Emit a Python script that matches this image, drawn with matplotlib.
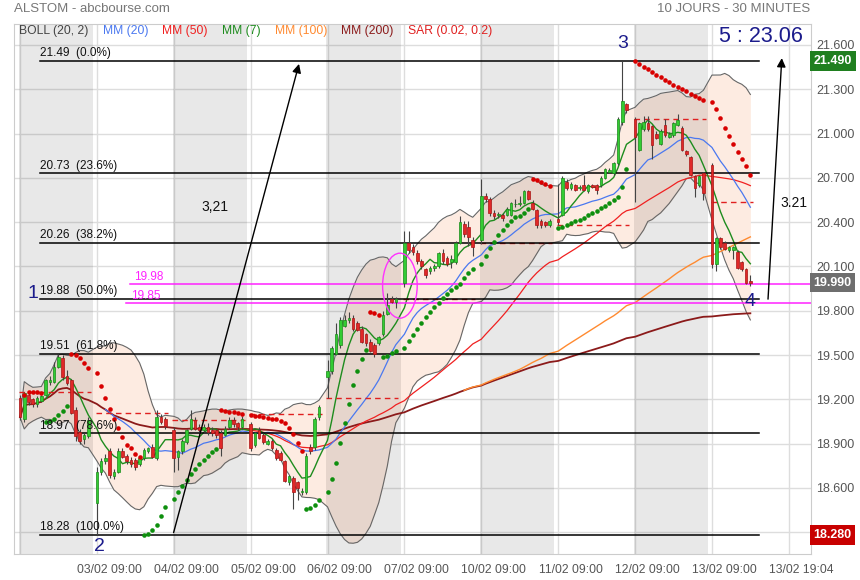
import numpy as np
import pandas as pd
import matplotlib
matplotlib.use('Agg')
import matplotlib.pyplot as plt
from matplotlib.patches import Ellipse
from matplotlib.transforms import blended_transform_factory

plt.rcParams['font.family'] = ['Liberation Sans', 'DejaVu Sans']

# 30 minute candles, 17 per session, 13/02 incomplete
candles_per_day = [17, 17, 17, 17, 17, 17, 17, 17, 17, 10]
xlabels = ['03/02 09:00', '04/02 09:00', '05/02 09:00', '06/02 09:00', '07/02 09:00',
           '10/02 09:00', '11/02 09:00', '12/02 09:00', '13/02 09:00', '13/02 19:04']

opens = [19.21, 19.07, 19.23, 19.20, 19.17, 19.19, 19.23, 19.32, 19.32, 19.42, 19.48, 19.36, 19.33, 19.13, 18.98, 18.93, 18.95,
         18.50, 18.71, 18.78, 18.85, 18.68, 18.71, 18.85, 18.82, 18.79, 18.79, 18.76, 18.80, 18.85, 18.88, 18.80, 19.08, 19.07,
         18.99, 18.81, 18.85, 18.91, 19.00, 19.06, 19.01, 18.99, 19.01, 18.99, 18.99, 18.97, 18.96, 19.01, 19.06, 19.04, 19.01,
         19.03, 18.89, 18.99, 18.96, 18.90, 18.92, 18.86, 18.84, 18.78, 18.64, 18.67, 18.64, 18.57, 18.57, 18.88, 18.88, 19.08,
         19.35, 19.39, 19.51, 19.57, 19.70, 19.74, 19.75, 19.72, 19.68, 19.64, 19.59, 19.57, 19.58, 19.64, 19.78, 19.88, 19.86,
         19.99, 20.26, 20.23, 20.19, 20.14, 20.08, 20.07, 20.09, 20.10, 20.19, 20.16, 20.13, 20.13, 20.26, 20.39, 20.37, 20.28,
         20.28, 20.58, 20.56, 20.46, 20.45, 20.45, 20.45, 20.45, 20.52, 20.52, 20.53, 20.61, 20.53, 20.48, 20.41, 20.40, 20.38,
         20.42, 20.45, 20.67, 20.63, 20.65, 20.63, 20.65, 20.61, 20.65, 20.65, 20.65, 20.70, 20.74, 20.73, 20.80, 21.08, 21.20,
         21.10, 20.89, 21.03, 21.07, 21.05, 21.00, 20.93, 21.06, 20.98, 20.99, 21.06, 21.04, 20.88, 20.84, 20.71, 20.65, 20.73,
         20.79, 20.12, 20.29, 20.26, 20.21, 20.21, 20.20, 20.13, 20.08, 20.00]
highs = [19.23, 19.25, 19.25, 19.21, 19.22, 19.23, 19.34, 19.36, 19.45, 19.51, 19.50, 19.40, 19.34, 19.15, 19.00, 18.97, 19.08,
         18.74, 18.80, 18.83, 18.87, 18.73, 18.87, 18.87, 18.83, 18.81, 18.80, 18.81, 18.87, 18.88, 18.90, 19.13, 19.10, 19.08,
         19.01, 18.86, 18.93, 19.00, 19.13, 19.08, 19.03, 19.03, 19.04, 19.01, 19.00, 18.99, 19.02, 19.08, 19.08, 19.05, 19.09,
         19.05, 18.98, 19.01, 18.97, 18.93, 18.93, 18.87, 18.85, 18.79, 18.69, 18.68, 18.65, 18.60, 18.84, 18.90, 19.08, 19.16,
         19.47, 19.56, 19.72, 19.76, 19.77, 19.79, 19.77, 19.73, 19.70, 19.65, 19.61, 19.58, 19.63, 19.80, 19.92, 19.90, 19.89,
         20.34, 20.34, 20.25, 20.21, 20.15, 20.09, 20.10, 20.12, 20.20, 20.22, 20.17, 20.18, 20.27, 20.44, 20.41, 20.41, 20.30,
         20.69, 20.60, 20.57, 20.48, 20.47, 20.46, 20.50, 20.54, 20.56, 20.58, 20.62, 20.62, 20.55, 20.49, 20.42, 20.41, 20.42,
         20.66, 20.71, 20.69, 20.67, 20.66, 20.65, 20.72, 20.66, 20.66, 20.66, 20.71, 20.77, 20.77, 20.81, 21.11, 21.49, 21.21,
         21.11, 21.08, 21.12, 21.12, 21.06, 21.02, 21.03, 21.10, 21.01, 21.08, 21.13, 21.05, 20.89, 20.85, 20.72, 20.72, 20.74,
         20.80, 20.30, 20.30, 20.27, 20.24, 20.24, 20.21, 20.14, 20.09, 20.04]
lows = [19.06, 19.05, 19.16, 19.15, 19.15, 19.18, 19.22, 19.30, 19.31, 19.41, 19.33, 19.30, 19.10, 18.92, 18.90, 18.90, 18.94,
        18.28, 18.69, 18.76, 18.67, 18.66, 18.70, 18.80, 18.76, 18.74, 18.72, 18.75, 18.79, 18.84, 18.80, 18.79, 19.03, 19.00,
        18.71, 18.72, 18.83, 18.90, 18.99, 18.99, 18.97, 18.98, 18.96, 18.95, 18.94, 18.82, 18.95, 19.00, 19.01, 18.99, 19.00,
        18.85, 18.88, 18.93, 18.90, 18.89, 18.86, 18.79, 18.78, 18.64, 18.62, 18.46, 18.52, 18.55, 18.56, 18.83, 18.86, 19.06,
        19.21, 19.37, 19.50, 19.55, 19.69, 19.72, 19.66, 19.66, 19.58, 19.56, 19.52, 19.49, 19.57, 19.63, 19.77, 19.85, 19.82,
        19.96, 20.19, 20.18, 20.12, 20.08, 20.02, 20.05, 20.07, 20.09, 20.12, 20.10, 20.09, 20.12, 20.25, 20.30, 20.24, 20.17,
        20.25, 20.54, 20.44, 20.42, 20.43, 20.41, 20.44, 20.44, 20.50, 20.51, 20.52, 20.55, 20.48, 20.36, 20.36, 20.37, 20.37,
        20.38, 20.44, 20.62, 20.62, 20.61, 20.62, 20.61, 20.60, 20.63, 20.59, 20.64, 20.69, 20.73, 20.72, 20.79, 21.06, 21.14,
        20.54, 20.88, 21.02, 21.02, 20.83, 20.96, 20.92, 20.98, 20.97, 20.98, 21.05, 20.88, 20.85, 20.71, 20.57, 20.64, 20.55,
        20.09, 20.07, 20.22, 20.21, 20.20, 20.15, 20.08, 20.07, 19.98, 19.97]
closes = [19.08, 19.24, 19.18, 19.17, 19.21, 19.22, 19.33, 19.33, 19.42, 19.49, 19.35, 19.31, 19.11, 18.95, 18.92, 18.96, 19.06,
          18.71, 18.78, 18.80, 18.69, 18.71, 18.85, 18.81, 18.78, 18.76, 18.74, 18.80, 18.86, 18.87, 18.81, 19.08, 19.05, 19.02,
          18.80, 18.85, 18.92, 18.99, 19.07, 19.00, 18.99, 19.01, 18.98, 18.97, 18.96, 18.87, 19.00, 19.06, 19.03, 19.01, 19.07,
          18.87, 18.97, 18.94, 18.91, 18.92, 18.87, 18.80, 18.79, 18.65, 18.68, 18.57, 18.60, 18.58, 18.82, 18.85, 19.07, 19.15,
          19.39, 19.55, 19.64, 19.74, 19.74, 19.75, 19.68, 19.67, 19.59, 19.58, 19.53, 19.51, 19.62, 19.77, 19.84, 19.86, 19.88,
          20.26, 20.21, 20.20, 20.14, 20.10, 20.04, 20.09, 20.10, 20.19, 20.14, 20.12, 20.15, 20.26, 20.40, 20.32, 20.30, 20.23,
          20.58, 20.56, 20.46, 20.44, 20.45, 20.43, 20.49, 20.53, 20.52, 20.53, 20.61, 20.56, 20.49, 20.38, 20.38, 20.38, 20.41,
          20.40, 20.70, 20.63, 20.66, 20.62, 20.64, 20.62, 20.65, 20.64, 20.62, 20.70, 20.76, 20.75, 20.80, 21.10, 21.22, 21.16,
          20.98, 21.07, 21.08, 21.03, 20.92, 20.97, 21.02, 20.99, 21.00, 21.07, 21.09, 20.89, 20.86, 20.72, 20.63, 20.71, 20.60,
          20.12, 20.29, 20.23, 20.22, 20.23, 20.23, 20.09, 20.08, 19.99, 19.99]

# previous close reference (dashed red), one per session
ref_close = [19.25, 19.11, 19.06, 19.10, 19.21, 19.88, 20.26, 20.38, 21.10, 20.54]

fib_levels = [21.49, 20.73, 20.26, 19.88, 19.51, 18.97, 18.28]
fib_pct = ['0.0%', '23.6%', '38.2%', '50.0%', '61.8%', '78.6%', '100.0%']
magenta_levels = [19.98, 19.85]

last_price = 19.99

# ---- x positions: 18 slots per day, candle k of day d at 18*d + k
xs = []
for d, n in enumerate(candles_per_day):
    xs += [18 * d + k for k in range(n)]
xs = np.array(xs, dtype=float)
o = np.array(opens); h = np.array(highs); l = np.array(lows); c = np.array(closes)

close = pd.Series(c)
mm7 = close.rolling(7).mean()
mm20 = close.rolling(20).mean()
mm50 = close.rolling(50).mean()
mm100 = close.rolling(100).mean()
mm200 = close.rolling(200, min_periods=1).mean()
bmid = close.rolling(20, min_periods=1).mean()
bsd = close.rolling(20, min_periods=1).std(ddof=0)
bup = bmid + 2 * bsd
blo = bmid - 2 * bsd


def psar(high, low, step=0.02, maxstep=0.2):
    n = len(high)
    sar = np.zeros(n)
    bull = np.zeros(n, dtype=bool)
    up = True
    af = step
    ep = high[0]
    sar[0] = low[0]
    bull[0] = True
    for i in range(1, n):
        s = sar[i - 1] + af * (ep - sar[i - 1])
        if up:
            s = min(s, low[i - 1], low[max(i - 2, 0)])
            if low[i] < s:
                up = False
                s = ep
                ep = low[i]
                af = step
            elif high[i] > ep:
                ep = high[i]
                af = min(af + step, maxstep)
        else:
            s = max(s, high[i - 1], high[max(i - 2, 0)])
            if high[i] > s:
                up = True
                s = ep
                ep = high[i]
                af = step
            elif low[i] < ep:
                ep = low[i]
                af = min(af + step, maxstep)
        sar[i] = s
        bull[i] = up
    return sar, bull


sar, bull = psar(h, l)

# ---- figure
fig = plt.figure(figsize=(8.6, 5.8), dpi=100)
ax = fig.add_axes([14 / 860, 26 / 580, 797 / 860, 530 / 580])
ax.set_xlim(-1.4, 185.2)
ax.set_ylim(18.153, 21.742)

yt = np.arange(18.3, 21.61, 0.3)
ax.set_yticks(yt)
ax.set_yticklabels(['%.3f' % v for v in yt])
ax.yaxis.tick_right()
ax.tick_params(axis='y', length=0, pad=4, labelsize=9, labelcolor='#555555')
ax.set_xticks([18 * d for d in range(11)])
ax.tick_params(axis='x', length=0, labelbottom=False)
ax.grid(True, color='#dddddd', lw=1, zorder=0)
ax.set_axisbelow(True)
for s in ax.spines.values():
    s.set_color('#cccccc')

# bollinger fill
ax.fill_between(xs, blo, bup, color='#fdebe1', lw=0, zorder=1)
# alternate day shading
for d in range(0, 10, 2):
    ax.axvspan(18 * d - 0.25, 18 * d + 17.1, color='black', alpha=0.09, lw=0, zorder=1.2)

ax.plot(xs, bup, color='#666666', lw=0.8, zorder=2)
ax.plot(xs, blo, color='#666666', lw=0.8, zorder=2)
ax.plot(xs, mm200, color='#8b1a1a', lw=1.3, zorder=2.1)
ax.plot(xs, mm100, color='#ff8a30', lw=1.0, zorder=2.1)
ax.plot(xs, mm50, color='#f02020', lw=0.9, zorder=2.1)
ax.plot(xs, mm20, color='#4a78f0', lw=0.9, zorder=2.1)
ax.plot(xs, mm7, color='#1e8c1e', lw=1.0, zorder=2.2)

# previous close dashed lines
for d, v in enumerate(ref_close):
    ax.plot([18 * d - 0.3, 18 * d + candles_per_day[d] - 0.4], [v, v], color='#e02020',
            lw=1, ls=(0, (4, 3)), zorder=2.3)

# fibonacci lines
for v, p in zip(fib_levels, fib_pct):
    ax.plot([4.7, 173.0], [v, v], color='black', lw=1.1, zorder=2.5)
    ax.text(4.7, v + 0.012, '%.2f  (%s)' % (v, p), fontsize=8.5, color='#111111',
            ha='left', va='bottom', zorder=5)

# magenta levels
for v, x0 in zip(magenta_levels, [25.7, 24.8]):
    ax.plot([x0, 185.2], [v, v], color='#ff22ff', lw=1.1, zorder=2.6)
    ax.text(x0 + 1.1, v + 0.008, '%.2f' % v, fontsize=8.5, color='#ff22ff',
            ha='left', va='bottom', zorder=5)

# candles
up = c >= o
ax.vlines(xs, l, h, color='#444444', lw=0.8, zorder=3)
body = np.maximum(np.abs(c - o), 0.006)
ax.bar(xs[up], body[up], bottom=np.minimum(o, c)[up], width=0.62,
       color='#33cc33', edgecolor='#1a8a1a', lw=0.5, zorder=3.1)
ax.bar(xs[~up], body[~up], bottom=np.minimum(o, c)[~up], width=0.62,
       color='#e02828', edgecolor='#a81414', lw=0.5, zorder=3.1)

# parabolic SAR
ax.plot(xs[1:][bull[1:]], sar[1:][bull[1:]], 'o', ms=3.3, color='#0e8f0e', mec='none', zorder=4)
ax.plot(xs[1:][~bull[1:]], sar[1:][~bull[1:]], 'o', ms=3.3, color='#d80000', mec='none', zorder=4)

# annotations
ax.add_patch(Ellipse((88.95, 19.97), 8.1, 0.44, fill=False, ec='#ff33ff', lw=1, zorder=4.5))
ax.annotate('', xy=(65.5, 21.49), xytext=(35.8, 18.28),
            arrowprops=dict(arrowstyle='-|>', color='black', lw=1, mutation_scale=13), zorder=5)
ax.annotate('', xy=(178.4, 21.53), xytext=(175.1, 19.86),
            arrowprops=dict(arrowstyle='-|>', color='black', lw=1, mutation_scale=13), zorder=5)
ax.text(45.6, 20.50, '3,21', fontsize=10, ha='center', va='center', color='#111111')
ax.text(181.2, 20.53, '3.21', fontsize=10, ha='center', va='center', color='#111111')
navy = '#1c1c8c'
ax.text(3.0, 19.92, '1', fontsize=14, ha='center', va='center', color=navy)
ax.text(18.7, 18.207, '2', fontsize=14, ha='center', va='center', color=navy)
ax.text(141.2, 21.607, '3', fontsize=14, ha='center', va='center', color=navy)
ax.text(171.0, 19.86, '4', fontsize=14, ha='center', va='center', color=navy, zorder=5)
ax.text(173.5, 21.654, '5 : 23.06', fontsize=15.5, ha='center', va='center', color=navy)

# legend row
leg = [('BOLL (20, 2)', '#444444', 19), ('MM (20)', '#4a78f0', 103), ('MM (50)', '#f02020', 162),
       ('MM (7)', '#1e8c1e', 222), ('MM (100)', '#ff8a30', 275), ('MM (200)', '#8b1a1a', 341),
       ('SAR (0.02, 0.2)', '#e02020', 408)]
for txt, col, px in leg:
    ax.text((px - 14) / 797, 0.986, txt, transform=ax.transAxes, fontsize=8.7, color=col,
            ha='left', va='center')

# x labels
for d, lab in enumerate(xlabels):
    ax.text(18 * (d + 1) + 2.9, -0.031, lab, transform=blended_transform_factory(ax.transData, ax.transAxes),
            fontsize=8.7, color='#555555', ha='center', va='center', clip_on=False)

# price tags on the right axis
tr = blended_transform_factory(ax.transAxes, ax.transData)
for v, fc in [(21.49, '#1f7f1f'), (last_price, '#6e6e6e'), (18.28, '#c80000')]:
    ax.text(1.003, v, '%.3f' % v, transform=tr, fontsize=9, fontweight='bold', color='white',
            ha='left', va='center', zorder=10, clip_on=False,
            bbox=dict(boxstyle='square,pad=0.3', fc=fc, ec='none'))

fig.text(14 / 860, 1 - 9 / 580, 'ALSTOM - abcbourse.com', fontsize=9.5, color='#777777', ha='left', va='center')
fig.text(810 / 860, 1 - 9 / 580, '10 JOURS - 30 MINUTES', fontsize=9.5, color='#777777', ha='right', va='center')

fig.savefig('out.png', dpi=100)
